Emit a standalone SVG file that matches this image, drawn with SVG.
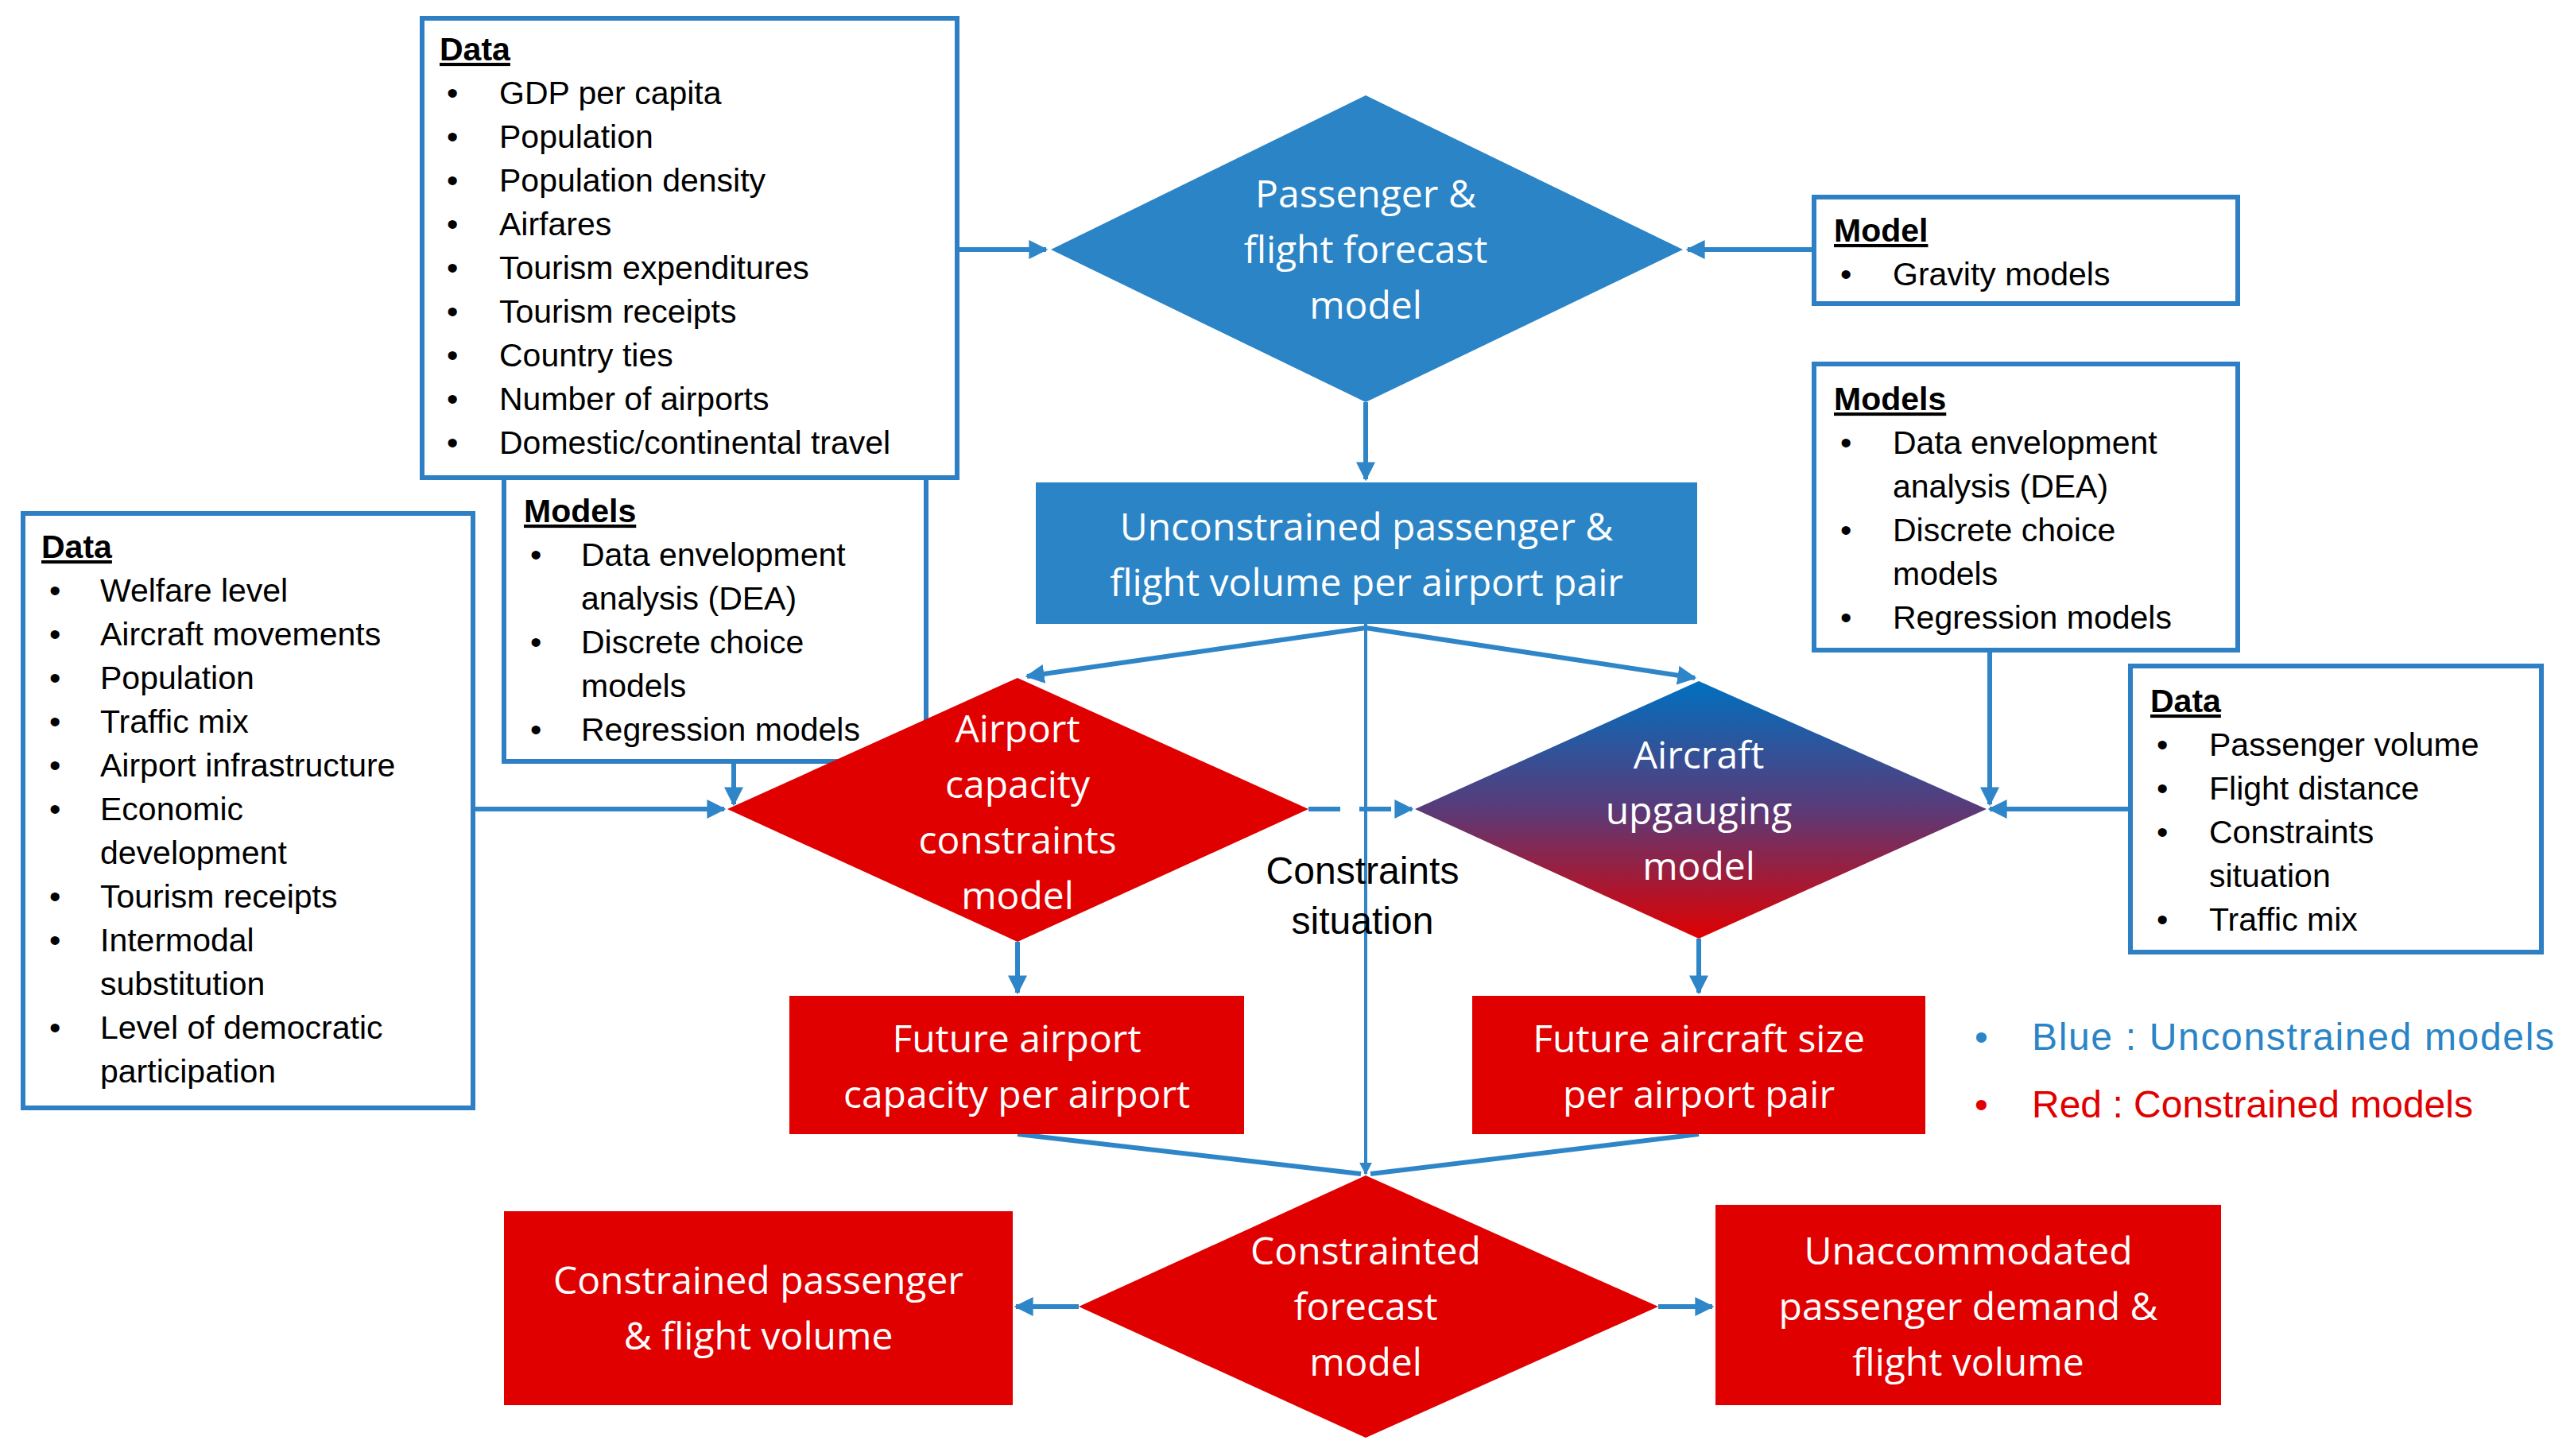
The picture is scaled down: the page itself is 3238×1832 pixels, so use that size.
<svg xmlns="http://www.w3.org/2000/svg" width="3238" height="1832" viewBox="0 0 3238 1832">
<defs>
<linearGradient id="g" x1="0" y1="0" x2="0" y2="1"><stop offset="0" stop-color="#0070c0"/><stop offset="0.5" stop-color="#5a3a78"/><stop offset="1" stop-color="#e00000"/></linearGradient>
<marker id="a" viewBox="0 0 10 10" refX="9" refY="5" markerWidth="4" markerHeight="4" orient="auto" markerUnits="strokeWidth"><path d="M0,0L10,5L0,10z" fill="#2e86c8"/></marker>
</defs>
<style>
.box{fill:#fff;stroke:#2e7fc4;stroke-width:6}
.t{font-family:"Liberation Sans",Arial,sans-serif;font-size:41px;fill:#000}
.h{font-weight:bold;text-decoration:underline}
.n{font-family:"Open Sans","Noto Sans",sans-serif;font-size:48px;fill:#fff;text-anchor:middle}
.c{stroke:#2e86c8;stroke-width:6;fill:none}
.blue{fill:#2a84c6}.red{fill:#e00000}
</style>
<rect width="3238" height="1832" fill="#fff"/>
<g id="connectors">
<path class="c" d="M1204,314H1316" marker-end="url(#a)"/>
<path class="c" d="M2282,314H2123" marker-end="url(#a)"/>
<path class="c" d="M1718,506V603" marker-end="url(#a)"/>
<path class="c" d="M1718,790L1292,851" marker-end="url(#a)"/>
<path class="c" d="M1718,790L2132,853" marker-end="url(#a)"/>
<path class="c" style="stroke-width:4" d="M1718,785V1477" marker-end="url(#a)"/>
<path class="c" d="M595,1018H911" marker-end="url(#a)"/>
<path class="c" d="M923,958V1012" marker-end="url(#a)"/>
<path class="c" d="M2680,1018H2503" marker-end="url(#a)"/>
<path class="c" d="M2503,818V1012" marker-end="url(#a)"/>
<path class="c" d="M1646,1018H1776" stroke-dasharray="40,24" marker-end="url(#a)"/>
<path class="c" d="M1280,1185V1249" marker-end="url(#a)"/>
<path class="c" d="M2137,1181V1249" marker-end="url(#a)"/>
<path class="c" d="M1280,1427L1712,1477"/>
<path class="c" d="M2137,1427L1724,1477"/>
<path class="c" d="M1357,1644H1278" marker-end="url(#a)"/>
<path class="c" d="M2086,1644H2154" marker-end="url(#a)"/>
</g>
<g id="data1">
<rect class="box" x="531" y="23" width="673" height="578"/>
<text class="t"><tspan class="h" x="553" y="76">Data</tspan></text>
<g class="t">
<text x="562" y="131">•</text><text x="628" y="131">GDP per capita</text>
<text x="562" y="186">•</text><text x="628" y="186">Population</text>
<text x="562" y="241">•</text><text x="628" y="241">Population density</text>
<text x="562" y="296">•</text><text x="628" y="296">Airfares</text>
<text x="562" y="351">•</text><text x="628" y="351">Tourism expenditures</text>
<text x="562" y="406">•</text><text x="628" y="406">Tourism receipts</text>
<text x="562" y="461">•</text><text x="628" y="461">Country ties</text>
<text x="562" y="516">•</text><text x="628" y="516">Number of airports</text>
<text x="562" y="571">•</text><text x="628" y="571">Domestic/continental travel</text>
</g>
</g>
<g id="models-left">
<rect class="box" x="634" y="601" width="531" height="357"/>
<text class="t"><tspan class="h" x="659" y="657">Models</tspan></text>
<g class="t">
<text x="667" y="712">•</text><text x="731" y="712">Data envelopment</text>
<text x="731" y="767">analysis (DEA)</text>
<text x="667" y="822">•</text><text x="731" y="822">Discrete choice</text>
<text x="731" y="877">models</text>
<text x="667" y="932">•</text><text x="731" y="932">Regression models</text>
</g>
</g>
<g id="data-left">
<rect class="box" x="29" y="646" width="566" height="748"/>
<text class="t"><tspan class="h" x="52" y="702">Data</tspan></text>
<g class="t">
<text x="62" y="757">•</text><text x="126" y="757">Welfare level</text>
<text x="62" y="812">•</text><text x="126" y="812">Aircraft movements</text>
<text x="62" y="867">•</text><text x="126" y="867">Population</text>
<text x="62" y="922">•</text><text x="126" y="922">Traffic mix</text>
<text x="62" y="977">•</text><text x="126" y="977">Airport infrastructure</text>
<text x="62" y="1032">•</text><text x="126" y="1032">Economic</text>
<text x="126" y="1087">development</text>
<text x="62" y="1142">•</text><text x="126" y="1142">Tourism receipts</text>
<text x="62" y="1197">•</text><text x="126" y="1197">Intermodal</text>
<text x="126" y="1252">substitution</text>
<text x="62" y="1307">•</text><text x="126" y="1307">Level of democratic</text>
<text x="126" y="1362">participation</text>
</g>
</g>
<g id="model-right">
<rect class="box" x="2282" y="248" width="533" height="134"/>
<text class="t"><tspan class="h" x="2307" y="304">Model</tspan></text>
<text class="t" x="2315" y="359">•</text><text class="t" x="2381" y="359">Gravity models</text>
</g>
<g id="models-right">
<rect class="box" x="2282" y="458" width="533" height="360"/>
<text class="t"><tspan class="h" x="2307" y="516">Models</tspan></text>
<g class="t">
<text x="2315" y="571">•</text><text x="2381" y="571">Data envelopment</text>
<text x="2381" y="626">analysis (DEA)</text>
<text x="2315" y="681">•</text><text x="2381" y="681">Discrete choice</text>
<text x="2381" y="736">models</text>
<text x="2315" y="791">•</text><text x="2381" y="791">Regression models</text>
</g>
</g>
<g id="data-right">
<rect class="box" x="2680" y="838" width="517" height="360"/>
<text class="t"><tspan class="h" x="2705" y="896">Data</tspan></text>
<g class="t">
<text x="2713" y="951">•</text><text x="2779" y="951">Passenger volume</text>
<text x="2713" y="1006">•</text><text x="2779" y="1006">Flight distance</text>
<text x="2713" y="1061">•</text><text x="2779" y="1061">Constraints</text>
<text x="2779" y="1116">situation</text>
<text x="2713" y="1171">•</text><text x="2779" y="1171">Traffic mix</text>
</g>
</g>
<g id="forecast">
<polygon class="blue" points="1718,120 2117,314 1718,506 1322,314"/>
<text class="n"><tspan x="1718" y="261">Passenger &amp;</tspan><tspan x="1718" y="331">flight forecast</tspan><tspan x="1718" y="401">model</tspan></text>
</g>
<g id="unconstrained">
<rect class="blue" x="1303" y="607" width="832" height="178"/>
<text class="n"><tspan x="1719" y="680">Unconstrained passenger &amp;</tspan><tspan x="1719" y="750">flight volume per airport pair</tspan></text>
</g>
<g id="airport-capacity">
<polygon class="red" points="1280,853 1646,1018 1280,1185 915,1018"/>
<text class="n"><tspan x="1280" y="934">Airport</tspan><tspan x="1280" y="1004">capacity</tspan><tspan x="1280" y="1074">constraints</tspan><tspan x="1280" y="1144">model</tspan></text>
</g>
<g id="upgauging">
<polygon fill="url(#g)" points="2137,857 2499,1018 2137,1181 1780,1018"/>
<text class="n"><tspan x="2137" y="967">Aircraft</tspan><tspan x="2137" y="1037">upgauging</tspan><tspan x="2137" y="1107">model</tspan></text>
</g>
<g id="constraints-label">
<text class="t" style="font-size:48px" text-anchor="middle"><tspan x="1714" y="1112">Constraints</tspan><tspan x="1714" y="1175">situation</tspan></text>
</g>
<g id="future-airport">
<rect class="red" x="993" y="1253" width="572" height="174"/>
<text class="n"><tspan x="1279" y="1324">Future airport</tspan><tspan x="1279" y="1394">capacity per airport</tspan></text>
</g>
<g id="future-aircraft">
<rect class="red" x="1852" y="1253" width="570" height="174"/>
<text class="n"><tspan x="2137" y="1324">Future aircraft size</tspan><tspan x="2137" y="1394">per airport pair</tspan></text>
</g>
<g id="legend" font-family="Liberation Sans,Arial,sans-serif" font-size="48">
<text x="2484" y="1321" fill="#2a84c6">•</text><text x="2556" y="1321" fill="#2a84c6" textLength="657">Blue : Unconstrained models</text>
<text x="2484" y="1406" fill="#e00000">•</text><text x="2556" y="1406" fill="#e00000">Red : Constrained models</text>
</g>
<g id="constrained-forecast">
<polygon class="red" points="1718,1479 2086,1644 1718,1809 1357,1644"/>
<text class="n"><tspan x="1718" y="1591">Constrainted</tspan><tspan x="1718" y="1661">forecast</tspan><tspan x="1718" y="1731">model</tspan></text>
</g>
<g id="constrained-volume">
<rect class="red" x="634" y="1524" width="640" height="244"/>
<text class="n"><tspan x="954" y="1628">Constrained passenger</tspan><tspan x="954" y="1698">&amp; flight volume</tspan></text>
</g>
<g id="unaccommodated">
<rect class="red" x="2158" y="1516" width="636" height="252"/>
<text class="n"><tspan x="2476" y="1591">Unaccommodated</tspan><tspan x="2476" y="1661">passenger demand &amp;</tspan><tspan x="2476" y="1731">flight volume</tspan></text>
</g>
</svg>
